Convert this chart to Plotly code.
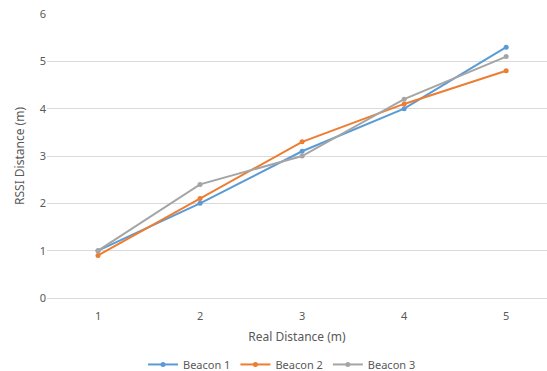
import plotly.graph_objects as go

real_distance = [1, 2, 3, 4, 5]
beacon1 = [1.0, 2.0, 3.1, 4.0, 5.3]
beacon2 = [0.9, 2.1, 3.3, 4.1, 4.8]
beacon3 = [1.0, 2.4, 3.0, 4.2, 5.1]
series_names = ["Beacon 1", "Beacon 2", "Beacon 3"]
colors = ["#5B9BD5", "#ED7D31", "#A5A5A5"]

fig = go.Figure()
for name, vals, c in zip(series_names, [beacon1, beacon2, beacon3], colors):
    fig.add_trace(go.Scatter(
        x=real_distance, y=vals, name=name, mode="lines+markers",
        line=dict(color=c, width=2), marker=dict(color=c, size=5),
    ))

font_family = "Noto Sans, Open Sans, sans-serif"
fig.update_layout(
    width=547, height=379,
    margin=dict(l=47, r=0, t=14, b=75),
    plot_bgcolor="white", paper_bgcolor="white",
    font=dict(family=font_family, size=11, color="#595959"),
    showlegend=True,
    legend=dict(orientation="h", x=0.47, xanchor="center", xref="paper",
                y=-0.234, yanchor="middle", font=dict(size=11, color="#595959"),
                itemwidth=30),
    xaxis=dict(
        range=[0.5, 5.4], tickvals=real_distance, ticktext=[str(v) for v in real_distance],
        showgrid=False, zeroline=False, showline=False, ticks="", automargin=False,
        ticklabelstandoff=10,
        title=dict(text="Real Distance (m)", standoff=10, font=dict(size=12, color="#595959")),
        tickfont=dict(size=11, color="#595959"),
    ),
    yaxis=dict(
        range=[0, 6], dtick=1, showgrid=True, gridcolor="#D9D9D9", gridwidth=1,
        zeroline=True, zerolinecolor="#D9D9D9", zerolinewidth=1, showline=False,
        ticks="", tickfont=dict(size=11, color="#595959"), automargin=False,
        title=dict(text="RSSI Distance (m)", standoff=12, font=dict(size=12, color="#595959")),
    ),
)

fig.write_html(
    "out.html",
    config={"displayModeBar": False},
    post_script="document.body.style.margin='0';document.body.style.overflow='hidden';",
)
